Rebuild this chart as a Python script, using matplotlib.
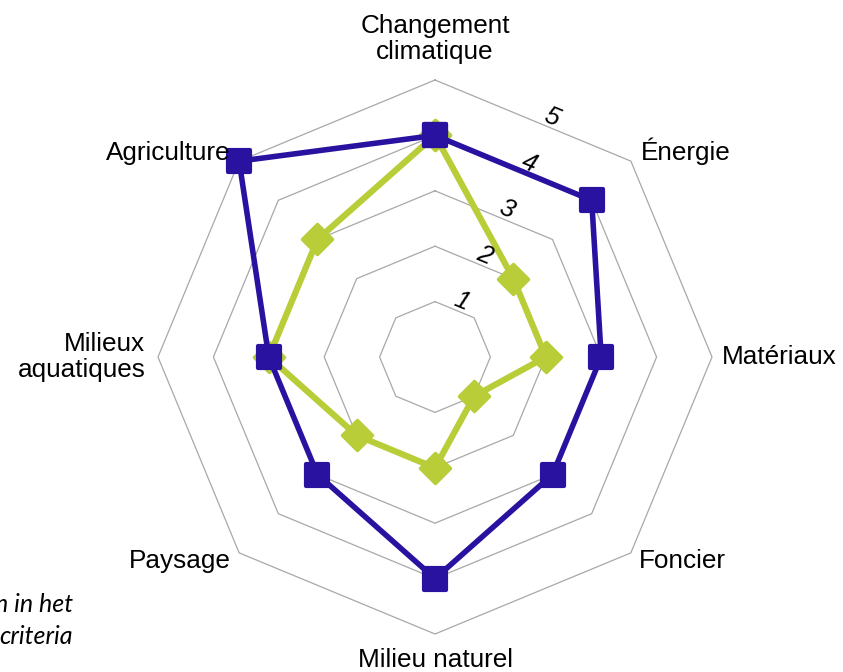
import numpy as np
import matplotlib
matplotlib.use("Agg")
import matplotlib.pyplot as plt
from matplotlib.markers import MarkerStyle

categories = ["Changement\nclimatique", "Énergie", "Matériaux", "Foncier",
              "Milieu naturel", "Paysage", "Milieux\naquatiques", "Agriculture"]
blue_values = [4, 4, 3, 3, 4, 3, 3, 5]
green_values = [4, 2, 2, 1, 2, 2, 3, 3]
levels = [1, 2, 3, 4, 5]
level_labels = ["1", "2", "3", "4", "5"]

BLUE = "#2A12A0"
GREEN = "#B8CD38"
GRID = "#A8A8A8"

plt.rcParams['font.family'] = ['Liberation Sans', 'DejaVu Sans']

fig = plt.figure(figsize=(8.43, 6.72), dpi=100)
ax = fig.add_axes([158/843, 38/672, 554/843, 554/672], projection='polar')
ax.set_theta_zero_location('N')
ax.set_theta_direction(-1)
ax.set_ylim(0, 5)
ax.grid(False)
ax.set_xticks([])
ax.set_yticks([])
ax.spines['polar'].set_visible(False)
ax.patch.set_visible(False)

n = len(categories)
theta = np.arange(n) * 2 * np.pi / n
theta_c = np.append(theta, theta[0])

for lv in levels:
    ax.plot(theta_c, [lv] * (n + 1), color=GRID, lw=0.9, zorder=1, clip_on=False)

# level labels along the edge between first two axes
for lv, lab in zip(levels, level_labels):
    ang = np.deg2rad(26)
    r = lv * 0.926 + 0.19
    ax.text(ang, r, lab, rotation=-22.5, ha='center', va='center',
            fontsize=18.5, style='italic', color='black', zorder=5)

diamond = MarkerStyle('D', joinstyle='round')
square = MarkerStyle('s', joinstyle='round')

ax.plot(theta_c, green_values + [green_values[0]], color=GREEN, lw=4.5,
        marker=diamond, markersize=15.5, markerfacecolor=GREEN, markeredgecolor=GREEN,
        markeredgewidth=2.5, solid_joinstyle='round', zorder=3, clip_on=False)
ax.plot(theta_c, blue_values + [blue_values[0]], color=BLUE, lw=4.0,
        marker=square, markersize=16, markerfacecolor=BLUE, markeredgecolor=BLUE,
        markeredgewidth=3, solid_joinstyle='round', zorder=4, clip_on=False)

label_pos = [(5.74, 'center'), (5.25, 'left'), (5.18, 'left'), (5.2, 'left'),
             (5.47, 'center'), (5.22, 'right'), (5.23, 'right'), (5.22, 'right')]
for t, lab, (r, ha) in zip(theta, categories, label_pos):
    ax.text(t, r, lab, ha=ha, va='center', fontsize=18.8, color='black',
            linespacing=1.12, zorder=6)

fig.text(73/843, 1 - 612/672, "n in het", ha='right', va='baseline',
         fontsize=18, style='italic', family=['Lato', 'DejaVu Sans'])
fig.text(73/843, 1 - 644/672, "criteria", ha='right', va='baseline',
         fontsize=18, style='italic', family=['Lato', 'DejaVu Sans'])

fig.savefig("out.png", dpi=100, facecolor='white')
